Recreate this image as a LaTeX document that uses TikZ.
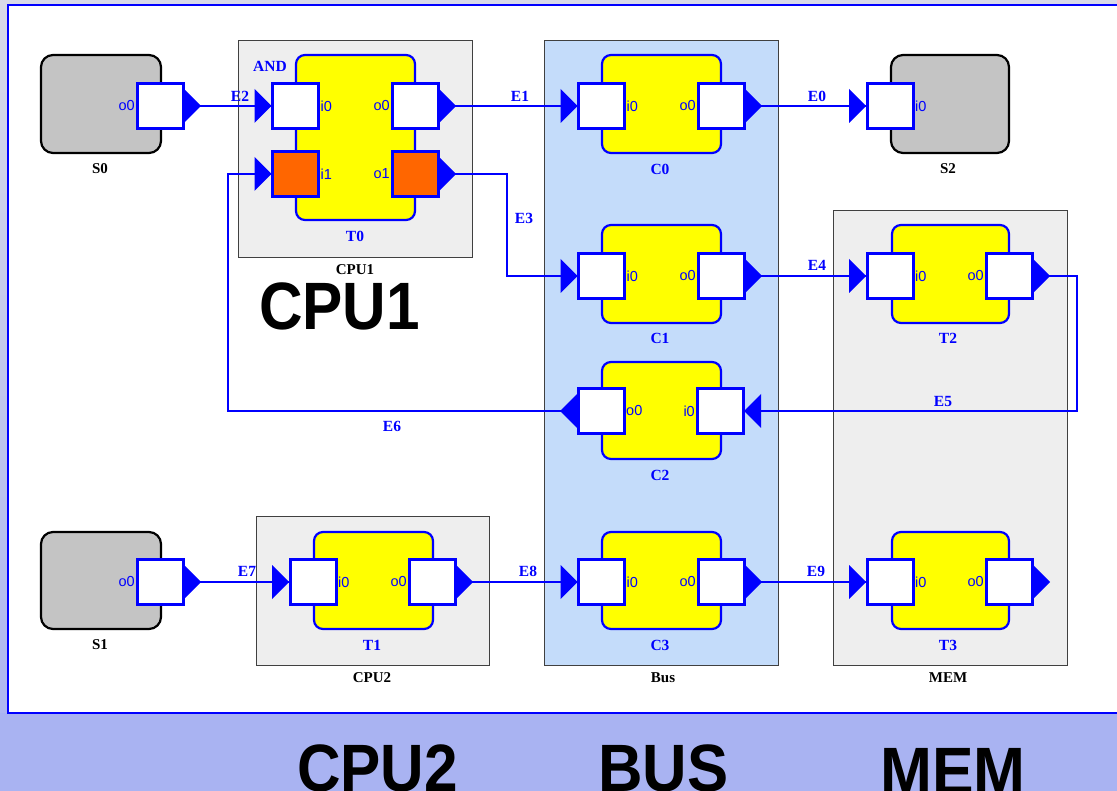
\documentclass[tikz,border=0pt]{standalone}
\usepackage{fontspec}
\setmainfont{Liberation Serif}
\newfontfamily\sansf{Liberation Sans}
\usetikzlibrary{calc}
\definecolor{bgtop}{HTML}{D8DAE8}
\definecolor{bgbot}{HTML}{A9B3F2}
\definecolor{srcgray}{HTML}{C4C4C4}
\definecolor{grpgray}{HTML}{EEEEEE}
\definecolor{grpline}{HTML}{404040}
\definecolor{busblue}{HTML}{C4DCFA}
\definecolor{portorange}{HTML}{FF6600}
\definecolor{taskyellow}{HTML}{FFFF00}
\definecolor{pblue}{HTML}{0000FF}
\newcommand\outR[1]{\fill[pblue] (#1.east) ++(1,-17) -- ++(17,17) -- ++(-17,17) -- cycle;}
\newcommand\inR[1]{\fill[pblue] (#1.west) ++(-18,-17) -- ++(17,17) -- ++(-17,17) -- cycle;}
\newcommand\outL[1]{\fill[pblue] (#1.west) ++(-1,-17) -- ++(-17,17) -- ++(17,17) -- cycle;}
\newcommand\inL[1]{\fill[pblue] (#1.east) ++(18,-17) -- ++(-17,17) -- ++(17,17) -- cycle;}
\begin{document}
\begin{tikzpicture}[x=1pt,y=-1pt,
  conn/.style={draw=pblue, line width=2.2pt},
  port/.style={draw=pblue, fill=white, line width=3pt, minimum width=46pt, minimum height=45pt, inner sep=0pt, outer sep=0pt},
  oport/.style={port, fill=portorange},
  task/.style={draw=pblue, fill=taskyellow, line width=2.2pt, rounded corners=9pt, inner sep=0pt},
  src/.style={draw=black, fill=srcgray, line width=2.2pt, rounded corners=12pt, inner sep=0pt},
  grp/.style={draw=grpline, fill=grpgray, line width=1.5pt, inner sep=0pt},
  busgrp/.style={grp, fill=busblue},
  elabel/.style={text=pblue, font=\bfseries\fontsize{15.5}{15.5}\selectfont, inner sep=0pt},
  plabel/.style={text=pblue, font=\sansf\fontsize{14.5}{14.5}\selectfont, inner sep=0pt},
  tlabel/.style={text=pblue, font=\bfseries\fontsize{15.5}{15.5}\selectfont, inner sep=0pt},
  nlabel/.style={text=black, font=\bfseries\fontsize{15}{15}\selectfont, inner sep=0pt},
  big/.style={text=black, font=\sansf\bfseries\fontsize{67}{67}\selectfont, inner sep=0pt}
]
\useasboundingbox (0,0) rectangle (1117,791);
\clip (0,0) rectangle (1117,791);
% background
\shade[top color=bgtop, bottom color=bgbot] (0,0) rectangle (1117,791);
\fill[bgbot] (0,713) rectangle (1117,791);
\draw[pblue, line width=1.5pt, fill=white] (8,5) rectangle (1130,713);

% groups
\node[grp, minimum width=234pt, minimum height=217pt] (CPU1) at (355.5,149) {};
\node[busgrp, minimum width=234pt, minimum height=625pt] (Bus) at (661.5,353) {};
\node[grp, minimum width=234pt, minimum height=455pt] (MEM) at (950.5,438) {};
\node[grp, minimum width=233pt, minimum height=149pt] (CPU2) at (373,591) {};
\node[nlabel] (CPU1l) at (355,270) {CPU1};
\node[nlabel] (Busl) at (663,678) {Bus};
\node[nlabel] (MEMl) at (948,678) {MEM};
\node[nlabel] (CPU2l) at (372,678) {CPU2};

% sources
\node[src, minimum width=120pt, minimum height=98pt] (S0) at (101,104) {};
\node[src, minimum width=118pt, minimum height=98pt] (S2) at (950,104) {};
\node[src, minimum width=120pt, minimum height=97pt] (S1) at (101,580.5) {};
\node[nlabel] (S0l) at (100,169) {S0};
\node[nlabel] (S2l) at (948,169) {S2};
\node[nlabel] (S1l) at (100,645) {S1};

% tasks
\node[task, minimum width=119pt, minimum height=165pt] (T0) at (355.5,137.5) {};
\node[task, minimum width=119pt, minimum height=98pt] (C0) at (661.5,104) {};
\node[task, minimum width=119pt, minimum height=98pt] (C1) at (661.5,274) {};
\node[task, minimum width=119pt, minimum height=97pt] (C2) at (661.5,410.5) {};
\node[task, minimum width=119pt, minimum height=97pt] (C3) at (661.5,580.5) {};
\node[task, minimum width=117pt, minimum height=98pt] (T2) at (950.5,274) {};
\node[task, minimum width=117pt, minimum height=97pt] (T3) at (950.5,580.5) {};
\node[task, minimum width=119pt, minimum height=97pt] (T1) at (373.5,580.5) {};
\node[tlabel] (T0l) at (355,236) {T0};
\node[tlabel] (C0l) at (660,169) {C0};
\node[tlabel] (C1l) at (660,338) {C1};
\node[tlabel] (C2l) at (660,475) {C2};
\node[tlabel] (C3l) at (660,645) {C3};
\node[tlabel] (T2l) at (948,338) {T2};
\node[tlabel] (T3l) at (948,645) {T3};
\node[tlabel] (T1l) at (372,645) {T1};
\node[tlabel] (ANDl) at (270,66) {AND};

% ports
\node[port] (S0o) at (160,106) {};
\node[port] (T0i0) at (295.5,106) {};
\node[oport] (T0i1) at (295.5,174) {};
\node[port] (T0o0) at (415,106) {};
\node[oport] (T0o1) at (415,174) {};
\node[port] (C0i) at (601.5,106) {};
\node[port] (C0o) at (721,106) {};
\node[port] (S2i) at (890,106) {};
\node[port] (C1i) at (601.5,276) {};
\node[port] (C1o) at (721,276) {};
\node[port] (T2i) at (890,276) {};
\node[port] (T2o) at (1009,276) {};
\node[port] (C2o) at (601,411) {};
\node[port] (C2i) at (720,411) {};
\node[port] (S1o) at (160,582) {};
\node[port] (T1i) at (313,582) {};
\node[port] (T1o) at (432,582) {};
\node[port] (C3i) at (601.5,582) {};
\node[port] (C3o) at (721,582) {};
\node[port] (T3i) at (890,582) {};
\node[port] (T3o) at (1009,582) {};

% port labels
\node[plabel, anchor=east] (S0ol) at ([xshift=-2pt]S0o.west) {o0};
\node[plabel, anchor=west] (T0i0l) at ([xshift=2pt]T0i0.east) {i0};
\node[plabel, anchor=west] (T0i1l) at ([xshift=2pt]T0i1.east) {i1};
\node[plabel, anchor=east] (T0o0l) at ([xshift=-2pt]T0o0.west) {o0};
\node[plabel, anchor=east] (T0o1l) at ([xshift=-2pt]T0o1.west) {o1};
\node[plabel, anchor=west] (C0il) at ([xshift=2pt]C0i.east) {i0};
\node[plabel, anchor=east] (C0ol) at ([xshift=-2pt]C0o.west) {o0};
\node[plabel, anchor=west] (S2il) at ([xshift=2pt]S2i.east) {i0};
\node[plabel, anchor=west] (C1il) at ([xshift=2pt]C1i.east) {i0};
\node[plabel, anchor=east] (C1ol) at ([xshift=-2pt]C1o.west) {o0};
\node[plabel, anchor=west] (T2il) at ([xshift=2pt]T2i.east) {i0};
\node[plabel, anchor=east] (T2ol) at ([xshift=-2pt]T2o.west) {o0};
\node[plabel, anchor=west] (C2ol) at ([xshift=2pt]C2o.east) {o0};
\node[plabel, anchor=east] (C2il) at ([xshift=-2pt]C2i.west) {i0};
\node[plabel, anchor=east] (S1ol) at ([xshift=-2pt]S1o.west) {o0};
\node[plabel, anchor=west] (T1il) at ([xshift=2pt]T1i.east) {i0};
\node[plabel, anchor=east] (T1ol) at ([xshift=-2pt]T1o.west) {o0};
\node[plabel, anchor=west] (C3il) at ([xshift=2pt]C3i.east) {i0};
\node[plabel, anchor=east] (C3ol) at ([xshift=-2pt]C3o.west) {o0};
\node[plabel, anchor=west] (T3il) at ([xshift=2pt]T3i.east) {i0};
\node[plabel, anchor=east] (T3ol) at ([xshift=-2pt]T3o.west) {o0};

% connectors
\draw[conn] (S0o.east) -- (T0i0.west);
\draw[conn] (T0o0.east) -- (C0i.west);
\draw[conn] (C0o.east) -- (S2i.west);
\draw[conn] (T0o1.east) -- (507,174) |- (C1i.west);
\draw[conn] (C1o.east) -- (T2i.west);
\draw[conn] (T2o.east) -- (1077,276) |- (C2i.east);
\draw[conn] (C2o.west) -- (228,411) |- (T0i1.west);
\draw[conn] (S1o.east) -- (T1i.west);
\draw[conn] (T1o.east) -- (C3i.west);
\draw[conn] (C3o.east) -- (T3i.west);

% arrowheads
\outR{S0o} \outR{T0o0} \outR{T0o1} \outR{C0o} \outR{C1o} \outR{T2o}
\outR{S1o} \outR{T1o} \outR{C3o} \outR{T3o}
\inR{T0i0} \inR{T0i1} \inR{C0i} \inR{S2i} \inR{C1i} \inR{T2i}
\inR{T1i} \inR{C3i} \inR{T3i}
\outL{C2o} \inL{C2i}

% edge labels
\node[elabel] (E0) at (817,96) {E0};
\node[elabel] (E1) at (520,96) {E1};
\node[elabel] (E2) at (240,96) {E2};
\node[elabel] (E3) at (524,218) {E3};
\node[elabel] (E4) at (817,265) {E4};
\node[elabel] (E5) at (943,402) {E5};
\node[elabel] (E6) at (392,426) {E6};
\node[elabel] (E7) at (247,571) {E7};
\node[elabel] (E8) at (528,571) {E8};
\node[elabel] (E9) at (816,571) {E9};

% big captions
\node[big, anchor=base west] (bigCPU1) at (259,330) {\scalebox{0.9}[1]{CPU1}};
\node[big, anchor=base west] (bigCPU2) at (297,791) {\scalebox{0.9}[1]{CPU2}};
\node[big, anchor=base west] (bigBUS) at (598,791) {\scalebox{0.92}[1]{BUS}};
\node[big, anchor=base west] (bigMEM) at (880,794) {\scalebox{0.93}[1]{MEM}};
\end{tikzpicture}
\end{document}
